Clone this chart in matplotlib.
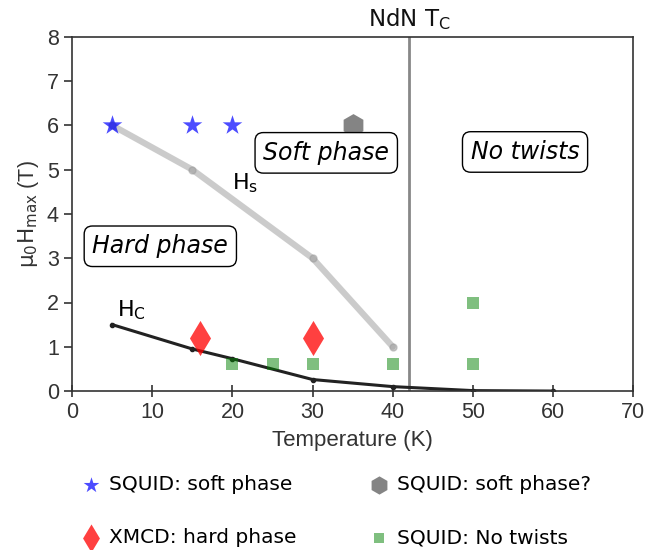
import matplotlib
matplotlib.use("Agg")
import matplotlib.pyplot as plt

# Saturation field (Hs) and coercive field (Hc) versus temperature
hs_T = [5, 15, 30, 40]
hs_H = [6, 5, 3, 1]
hc_T = [5, 15, 20, 30, 40, 50, 60]
hc_H = [1.5, 0.95, 0.73, 0.26, 0.1, 0.01, 0.0]

# Measurement points
squid_soft_T = [5, 15, 20]
squid_soft_H = [6, 6, 6]
squid_soft_q_T = [35]
squid_soft_q_H = [6]
xmcd_hard_T = [16, 30]
xmcd_hard_H = [1.2, 1.2]
squid_nt_T = [20, 25, 30, 40, 50, 50]
squid_nt_H = [0.6, 0.6, 0.6, 0.6, 0.6, 2.0]

ndn_tc = 42

sans = ["Liberation Sans", "DejaVu Sans"]

fig = plt.figure(figsize=(6.68, 5.5), dpi=100)
ax = fig.add_axes([0.108, 0.289, 0.840, 0.644])

ax.plot(hs_T, hs_H, color="#999999", lw=4.5, alpha=0.5, marker="o", ms=5,
        solid_capstyle="round", zorder=2)
ax.plot(hc_T, hc_H, color="#222222", lw=2.2, marker="o", ms=3, zorder=2)

h1 = ax.scatter(squid_soft_T, squid_soft_H, marker="*", s=220, color="blue",
                alpha=0.7, lw=0, zorder=3, label="SQUID: soft phase")
h3 = ax.scatter(squid_soft_q_T, squid_soft_q_H, marker="h", s=270,
                color="#777777", alpha=0.9, lw=0, zorder=3,
                label="SQUID: soft phase?")
h2 = ax.scatter(xmcd_hard_T, xmcd_hard_H, marker="d", s=320, color="red",
                alpha=0.75, lw=0, zorder=3, label="XMCD: hard phase")
h4 = ax.scatter(squid_nt_T, squid_nt_H, marker="s", s=75, color="green",
                alpha=0.5, lw=0, zorder=3, label="SQUID: No twists")

ax.axvline(ndn_tc, color="#888888", lw=2, zorder=1)
ax.text(ndn_tc, 8.12, r"NdN T$_\mathrm{C}$", ha="center", va="bottom",
        fontsize=16.5, color="#111111")

box = dict(boxstyle="round,pad=0.35", fc="white", ec="black", lw=1)
ax.text(31.7, 5.38, "Soft phase", style="italic", fontsize=17,
        ha="center", va="center", bbox=box, zorder=4)
ax.text(56.5, 5.4, "No twists", style="italic", fontsize=17,
        ha="center", va="center", bbox=box)
ax.text(11, 3.27, "Hard phase", style="italic", fontsize=17,
        ha="center", va="center", bbox=box)
ax.text(20, 4.7, r"H$_\mathrm{s}$", fontsize=16, ha="left", va="center")
ax.text(5.6, 1.82, r"H$_\mathrm{C}$", fontsize=16, ha="left", va="center")

ax.set_xlim(0, 70)
ax.set_ylim(0, 8)
ax.set_xticks(range(0, 71, 10))
ax.set_yticks(range(0, 9))
ax.tick_params(labelsize=15.5, colors="#333333", length=6, width=1.2)
ax.tick_params(axis="x", direction="inout", length=9)
for lab in ax.get_xticklabels() + ax.get_yticklabels():
    lab.set_family(sans)
for s in ax.spines.values():
    s.set_color("#333333")
    s.set_linewidth(1.2)
ax.set_xlabel("Temperature (K)", fontsize=16, color="#333333", labelpad=5,
              family=sans)
ax.set_ylabel(r"$\mathrm{\mu_0 H_{max}}$ (T)", fontsize=15.5, color="#333333",
              family=sans)

fig.legend(handles=[h1, h2, h3, h4], loc="upper left",
           bbox_to_anchor=(0.118, 0.136), ncol=2, frameon=False,
           prop={"family": "DejaVu Sans", "size": 14.5}, markerscale=0.8,
           labelspacing=1.7, columnspacing=3.5, handletextpad=0.3,
           handlelength=1.2, borderpad=0, scatterpoints=1, borderaxespad=0,
           bbox_transform=fig.transFigure)

fig.savefig("out.png", dpi=100)
